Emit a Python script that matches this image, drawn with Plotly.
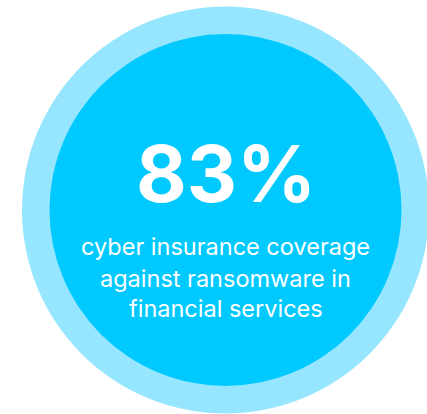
import plotly.graph_objects as go

# Data
stat_value = [83]
stat_suffix = ["%"]
label_lines = ["cyber insurance coverage", "against ransomware in", "financial services"]

W, H = 427, 414
cx, cy = 225.5, 210
r_outer, r_inner = 203.5, 176

fig = go.Figure()
fig.add_trace(go.Scatter(x=[cx], y=[cy], mode="markers", marker=dict(opacity=0), hoverinfo="skip", showlegend=False))

fig.add_shape(type="circle", xref="x", yref="y", x0=cx - r_outer, x1=cx + r_outer,
              y0=cy - r_outer, y1=cy + r_outer, fillcolor="#95E6FE", line=dict(width=0), layer="below")
fig.add_shape(type="circle", xref="x", yref="y", x0=cx - r_inner, x1=cx + r_inner,
              y0=cy - r_inner, y1=cy + r_inner, fillcolor="#00C9FF", line=dict(width=0), layer="below")

fig.add_annotation(x=cx, y=173, xref="x", yref="y", text=f"<b>{stat_value[0]}{stat_suffix[0]}</b>",
                   showarrow=False, xanchor="center", yanchor="middle",
                   font=dict(family="Inter", size=78, color="white"))

line_y = [246, 278, 308]
for t, yy in zip(label_lines, line_y):
    fig.add_annotation(x=cx, y=yy, xref="x", yref="y", text=t, showarrow=False,
                       xanchor="center", yanchor="middle",
                       font=dict(family="Inter", size=23.5, color="white"))

fig.update_layout(width=W, height=H, margin=dict(l=0, r=0, t=0, b=0),
                  paper_bgcolor="white", plot_bgcolor="white",
                  xaxis=dict(range=[0, W], visible=False, fixedrange=True),
                  yaxis=dict(range=[H, 0], visible=False, fixedrange=True),
                  showlegend=False)
fig.write_html("out.html", config={"displayModeBar": False})
